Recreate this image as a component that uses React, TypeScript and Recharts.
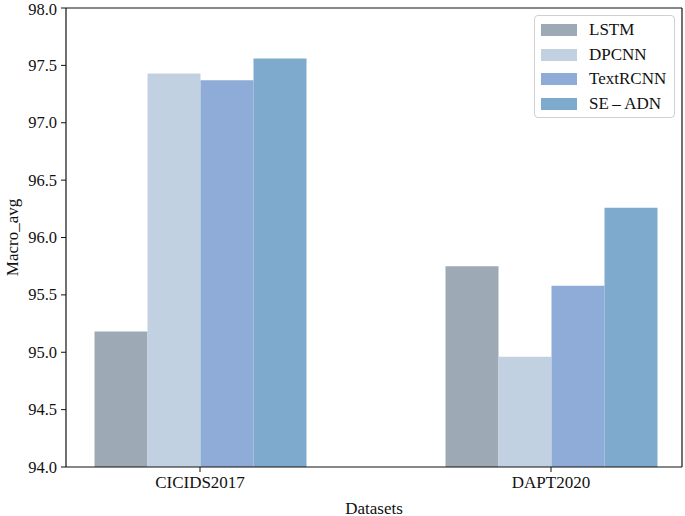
import React from 'react';
import { BarChart, Bar, XAxis, YAxis, Label } from 'recharts';

const categories = ['CICIDS2017', 'DAPT2020'];
const lstm = [95.18, 95.75];
const dpcnn = [97.43, 94.96];
const textrcnn = [97.37, 95.58];
const seadn = [97.56, 96.26];
const yTicks = [94.0, 94.5, 95.0, 95.5, 96.0, 96.5, 97.0, 97.5, 98.0];

const seriesNames = ['LSTM', 'DPCNN', 'TextRCNN', 'SE\u2009\u2013\u2009ADN'];
const colors = ['#9da9b5', '#c2d1e2', '#8fabd7', '#7eabcd'];

const data = categories.map((c, i) => ({
  name: c,
  lstm: lstm[i],
  dpcnn: dpcnn[i],
  textrcnn: textrcnn[i],
  seadn: seadn[i],
}));

const FONT = '"Liberation Serif", "DejaVu Serif", serif';

const XTick = (props: any) => {
  const { x, y, payload } = props;
  return (
    <text x={x} y={y + 14} textAnchor="middle" fill="#111" fontSize={17} fontFamily={FONT}>
      {payload.value}
    </text>
  );
};

const YTick = (props: any) => {
  const { x, y, payload } = props;
  return (
    <text x={x - 2} y={y} textAnchor="end" dominantBaseline="central" fill="#111" fontSize={16.5} fontFamily={FONT}>
      {Number(payload.value).toFixed(1)}
    </text>
  );
};

const LegendBox = () => (
  <div
    style={{
      position: 'absolute',
      left: 534,
      top: 15,
      width: 141,
      height: 103,
      border: '1px solid #d0d0d0',
      borderRadius: 4,
      background: '#fff',
      boxSizing: 'border-box',
      paddingTop: 2,
      fontFamily: FONT,
      fontSize: 17,
      color: '#111',
    }}
  >
    {seriesNames.map((n, i) => (
      <div key={n} style={{ display: 'flex', alignItems: 'center', height: 24.5 }}>
        <div style={{ width: 36, height: 12, background: colors[i], marginLeft: 6, marginRight: 12 }} />
        <span>{n}</span>
      </div>
    ))}
  </div>
);

export default function App() {
  return (
    <div
      style={{
        position: 'absolute',
        left: 0,
        top: 0,
        width: 685,
        height: 516,
        background: '#fff',
        fontFamily: FONT,
      }}
    >
      <BarChart
        width={685}
        height={516}
        data={data}
        margin={{ top: 7, right: 2, bottom: 0, left: 0 }}
        barGap={0}
        barSize={53}
      >
        <XAxis
          dataKey="name"
          xAxisId="b"
          padding={{ left: -41.5, right: -44.5 }}
          tick={<XTick />}
          tickLine={{ stroke: '#111' }}
          axisLine={{ stroke: '#111', strokeWidth: 1.2 }}
          tickSize={5}
          height={49}
          interval={0}
        >
          <Label
            content={({ viewBox }: any) => (
              <text
                x={viewBox.x + viewBox.width / 2}
                y={viewBox.y + 41}
                textAnchor="middle"
                dominantBaseline="central"
                fill="#111"
                fontSize={17}
                fontFamily={FONT}
              >
                Datasets
              </text>
            )}
          />
        </XAxis>
        <XAxis
          dataKey="name"
          xAxisId="t"
          orientation="top"
          height={1}
          tick={false}
          tickLine={false}
          axisLine={{ stroke: '#111', strokeWidth: 1.2 }}
        />
        <YAxis
          yAxisId="l"
          domain={[94, 98]}
          ticks={yTicks}
          width={66}
          allowDataOverflow
          tick={<YTick />}
          tickLine={{ stroke: '#111' }}
          axisLine={{ stroke: '#111', strokeWidth: 1.2 }}
          tickSize={5}
        >
          <Label
            content={({ viewBox }: any) => {
              const cx = 12;
              const cy = viewBox.y + viewBox.height / 2;
              return (
                <text
                  x={cx}
                  y={cy}
                  transform={`rotate(-90, ${cx}, ${cy})`}
                  textAnchor="middle"
                  dominantBaseline="central"
                  fill="#111"
                  fontSize={17}
                  fontFamily={FONT}
                >
                  Macro_avg
                </text>
              );
            }}
          />
        </YAxis>
        <YAxis
          yAxisId="r"
          orientation="right"
          domain={[94, 98]}
          width={1}
          tick={false}
          tickLine={false}
          axisLine={{ stroke: '#111', strokeWidth: 1.2 }}
        />
        <Bar dataKey="lstm" name={seriesNames[0]} fill={colors[0]} xAxisId="b" yAxisId="l" isAnimationActive={false} />
        <Bar dataKey="dpcnn" name={seriesNames[1]} fill={colors[1]} xAxisId="b" yAxisId="l" isAnimationActive={false} />
        <Bar dataKey="textrcnn" name={seriesNames[2]} fill={colors[2]} xAxisId="b" yAxisId="l" isAnimationActive={false} />
        <Bar dataKey="seadn" name={seriesNames[3]} fill={colors[3]} xAxisId="b" yAxisId="l" isAnimationActive={false} />
      </BarChart>
      <LegendBox />
    </div>
  );
}
